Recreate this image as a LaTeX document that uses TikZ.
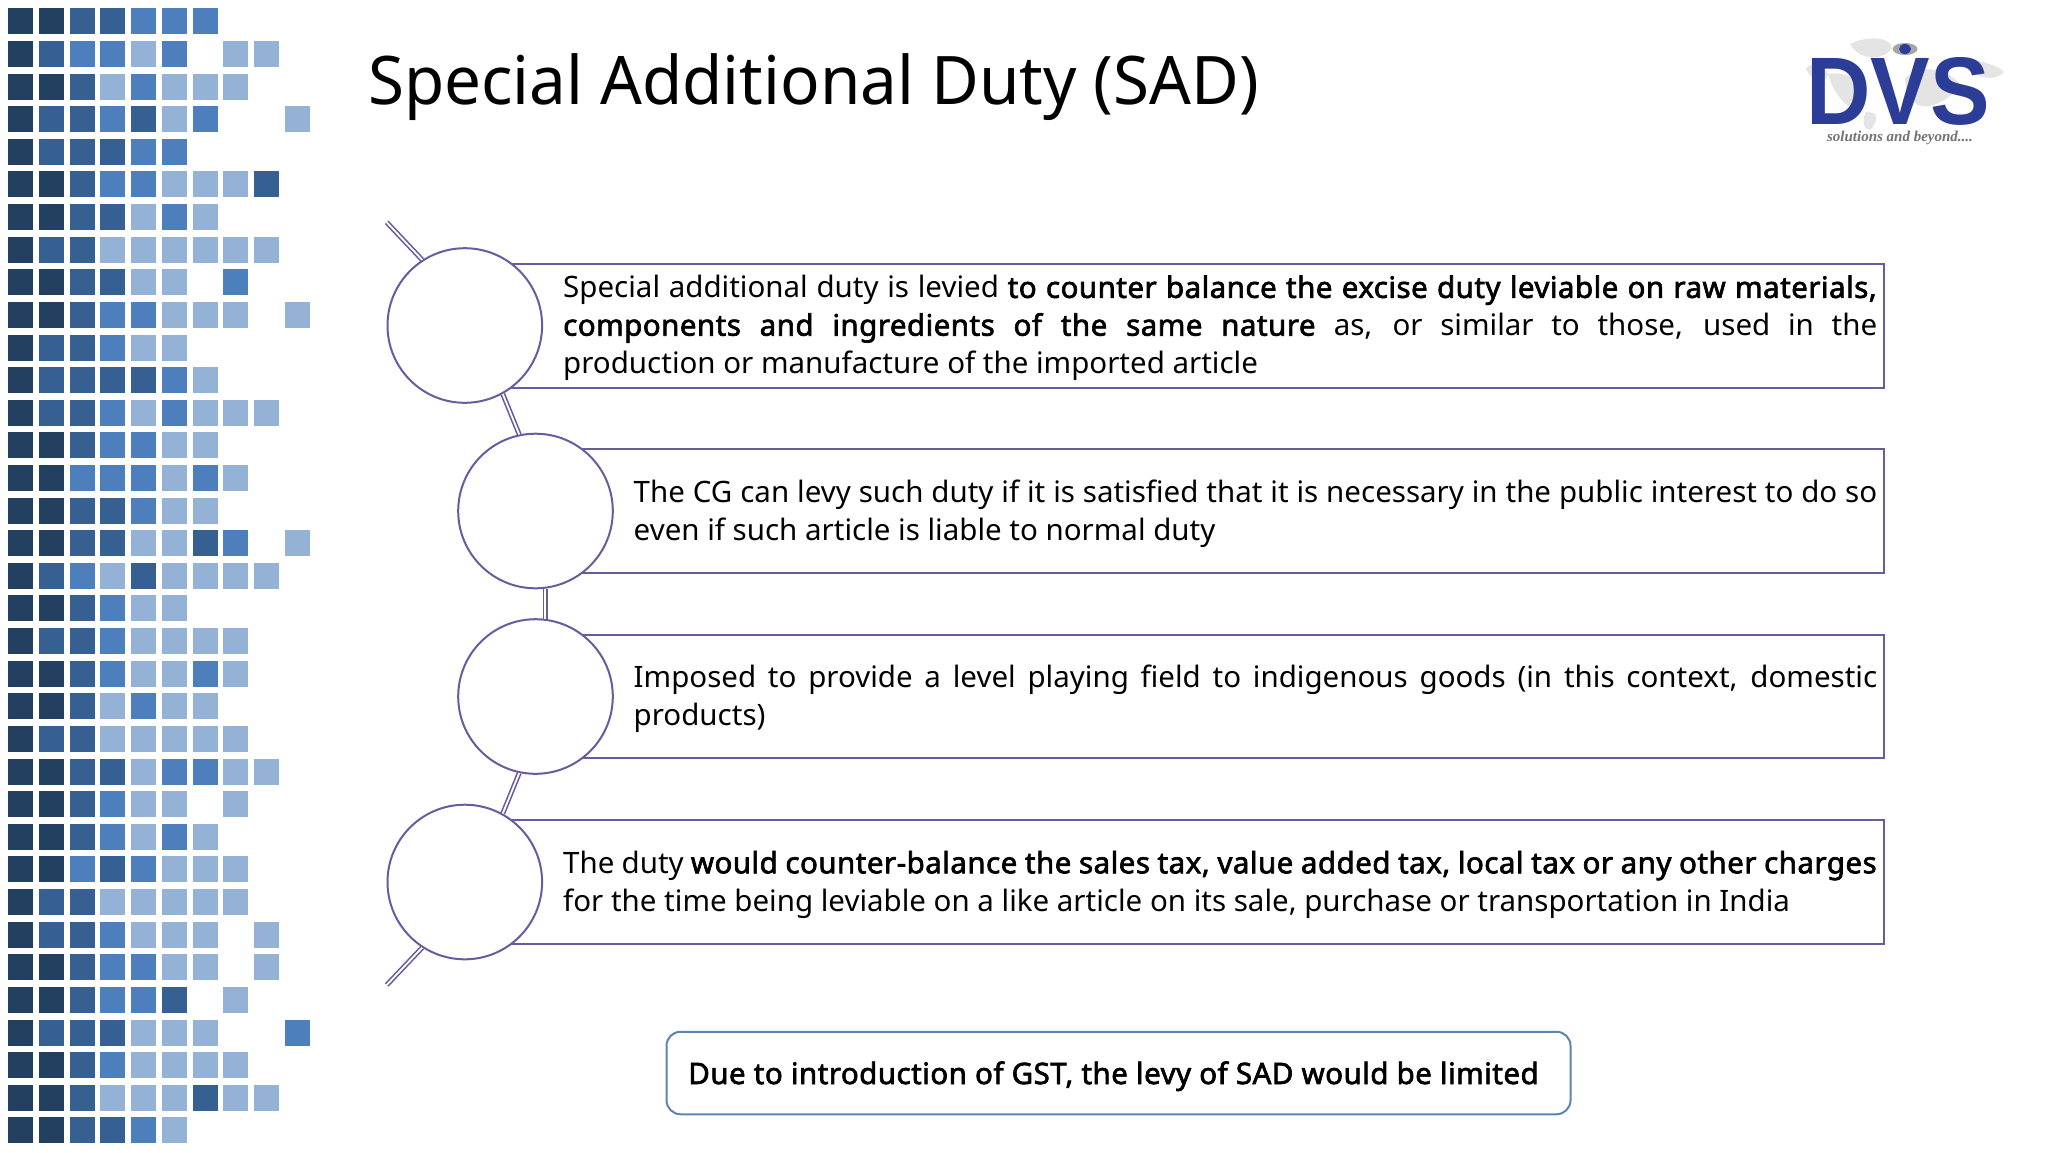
\documentclass[tikz,border=0pt]{standalone}
\usepackage{fontspec}
\setmainfont{Noto Sans}[BoldFont={Noto Sans},BoldFeatures={FakeBold=2.2,LetterSpace=1.6}]
\newfontfamily\titlefont{Noto Sans}[FakeStretch=0.978]
\newfontfamily\logofont{Liberation Sans}[FakeStretch=0.93]
\newfontfamily\tagfont{Liberation Serif}
\usetikzlibrary{calc}
\definecolor{colD}{HTML}{244061}
\definecolor{colM}{HTML}{366092}
\definecolor{colB}{HTML}{4E7FBD}
\definecolor{colL}{HTML}{94B2D6}
\definecolor{purp}{HTML}{6A5A9E}
\definecolor{edgeblue}{HTML}{5B84B5}
\definecolor{logoblue}{HTML}{2B3D97}
\definecolor{mapgrey}{HTML}{E4E4E4}
\newcommand{\bodysize}{\fontsize{29.5}{37.8}\selectfont}
\newcommand{\jline}[2]{\hbox to #1{#2}}
\tikzset{
  barbox/.style={draw=purp,line width=2pt,fill=white},
  bead/.style={circle,draw=purp,line width=2pt,fill=white,minimum size=154.6pt,inner sep=0pt},
  link/.style={draw=purp,line width=1.6pt,double=white,double distance=1.8pt},
  bodytext/.style={anchor=west,inner sep=0pt,font=\bodysize,align=left},
}
\begin{document}
\begin{tikzpicture}[x=1pt,y=-1pt]
\useasboundingbox (0,0) rectangle (2048,1152);
\fill[white] (0,0) rectangle (2048,1152);
% square mosaic
\foreach \rowdata [count=\r from 0] in {
 {D,D,M,M,B,B,B,x,x,x},{D,M,B,B,L,B,x,L,L,x},{D,D,M,L,B,L,L,L,x,x},{D,M,M,B,M,L,B,x,x,L},
 {D,M,M,M,B,B,x,x,x,x},{D,D,M,B,B,L,L,L,M,x},{D,D,M,M,L,B,L,x,x,x},{D,M,M,L,L,L,L,L,L,x},
 {D,D,M,M,L,L,x,B,x,x},{D,D,M,B,B,L,L,L,x,L},{D,M,M,B,L,L,x,x,x,x},{D,M,M,M,M,B,L,x,x,x},
 {D,M,M,B,L,B,L,L,L,x},{D,D,M,B,B,L,L,x,x,x},{D,D,B,B,B,L,B,L,x,x},{D,D,M,M,B,L,L,x,x,x},
 {D,D,M,M,L,L,M,B,x,L},{D,M,B,L,M,L,L,L,L,x},{D,D,M,B,L,L,x,x,x,x},{D,M,M,B,L,L,L,L,x,x},
 {D,D,M,B,L,L,B,L,x,x},{D,D,M,L,B,L,L,x,x,x},{D,M,M,L,L,L,L,L,x,x},{D,D,M,M,L,B,B,L,L,x},
 {D,D,M,B,L,L,x,L,x,x},{D,D,M,B,L,B,L,x,x,x},{D,D,B,M,B,L,L,L,x,x},{D,M,M,L,L,L,L,L,x,x},
 {D,M,M,B,L,L,L,x,L,x},{D,D,M,B,B,L,L,x,L,x},{D,D,M,B,B,M,x,L,x,x},{D,M,M,M,L,L,L,x,x,B},
 {D,D,M,B,L,L,L,L,x,x},{D,D,M,L,L,L,M,L,L,x},{D,D,M,M,B,L,x,x,x,x}}{
  \foreach \c [count=\i from 0] in \rowdata {
    \if\c x\else
      \fill[col\c] ({8.3+30.7*\i},{8.3+32.62*\r}) rectangle ++(25,26);
    \fi
  }
}
% title
\node[anchor=base west,inner sep=0pt,font=\titlefont\fontsize{67}{80}\selectfont] (title) at (368,104) {Special Additional Duty (SAD)};
% logo: world map behind the letters
\fill[mapgrey] (1806,68) .. controls (1815,60) and (1822,66) .. (1828,74) .. controls (1826,84) and (1812,84) .. (1806,68) -- cycle;
\fill[mapgrey] (1850,44) .. controls (1865,36) and (1890,36) .. (1892,48) .. controls (1885,60) and (1860,62) .. (1850,44) -- cycle;
\fill[mapgrey] (1828,74) .. controls (1850,70) and (1868,85) .. (1862,108) .. controls (1855,115) and (1835,100) .. (1828,74) -- cycle;
\fill[mapgrey] (1866,112) .. controls (1876,112) and (1880,116) .. (1872,128) .. controls (1866,134) and (1860,122) .. (1866,112) -- cycle;
\fill[mapgrey] (1905,78) .. controls (1925,62) and (1950,70) .. (1960,85) .. controls (1950,100) and (1930,110) .. (1918,105) .. controls (1910,100) and (1905,90) .. (1905,78) -- cycle;
\fill[mapgrey] (1960,60) .. controls (1975,58) and (2000,66) .. (2004,72) .. controls (1995,82) and (1975,80) .. (1960,60) -- cycle;
\node[anchor=base,inner sep=0pt,font=\logofont\bfseries\fontsize{96}{96}\selectfont,text=logoblue] (logo) at (1898,124) {DVS};
\fill[gray!70] (1905,49) ellipse (12.5 and 6);
\fill[logoblue] (1905,49) ellipse (6 and 5);
\node[inner sep=0pt,font=\tagfont\bfseries\itshape\fontsize{15}{15}\selectfont,text=black!55] (tag) at (1900,137.5) {solutions and beyond....};
% boxes
\draw[barbox] (464.8,264) rectangle (1884,387.7);
\draw[barbox] (535.5,449.3) rectangle (1884,573);
\draw[barbox] (535.5,635) rectangle (1884,758.3);
\draw[barbox] (464.8,820) rectangle (1884,944);
% beads
\coordinate (tl) at (386.7,222.3);
\coordinate (bl) at (386.7,985);
\node[bead] (c1) at (464.8,325.5) {};
\node[bead] (c2) at (535.5,511) {};
\node[bead] (c3) at (535.5,696.5) {};
\node[bead] (c4) at (464.8,882) {};
\draw[link] (tl) -- (c1.123);
\draw[link] (c1.-61) -- (c2.102);
\draw[link] (c2.-83.5) -- (c3.83.5);
\draw[link] (c3.-102.7) -- (c4.61);
\draw[link] (c4.-123) -- (bl);
% texts
\node[bodytext] (t1) at (563,328) {%
 \jline{1314pt}{Special additional duty is levied \textbf{to counter balance the excise duty leviable on raw materials,}}\\
 \jline{1314pt}{\textbf{components and ingredients of the same nature} as, or similar to those, used in the}\\
 production or manufacture of the imported article};
\node[bodytext] (t2) at (633.5,513.5) {%
 \jline{1243.5pt}{The CG can levy such duty if it is satisfied that it is necessary in the public interest to do so}\\
 even if such article is liable to normal duty};
\node[bodytext] (t3) at (633.5,699) {%
 \jline{1243.5pt}{Imposed to provide a level playing field to indigenous goods (in this context, domestic}\\
 products)};
\node[bodytext] (t4) at (563,884.5) {%
 \jline{1314pt}{The duty \textbf{would counter-balance the sales tax, value added tax, local tax or any other charges}}\\
 for the time being leviable on a like article on its sale, purchase or transportation in India};
% note
\node[draw=edgeblue,line width=2pt,rounded corners=14pt,fill=white,minimum width=904pt,minimum height=82.5pt,inner sep=0pt,font=\bodysize\bfseries] (note) at (1118.5,1073) {\raisebox{-11pt}[10pt][10pt]{Due to introduction of GST, the levy of SAD would be limited}\hspace*{10pt}};
\end{tikzpicture}
\end{document}
